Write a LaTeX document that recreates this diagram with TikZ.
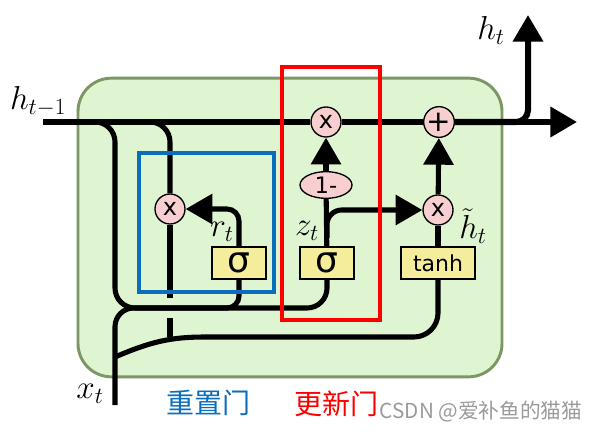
\documentclass[tikz,border=0pt]{standalone}
\usepackage{fontspec}
\usepackage{amsmath}
\usetikzlibrary{arrows.meta,positioning,shapes.geometric}
\newfontfamily\gatefont{DejaVu Sans}
\newfontfamily\cjkfont{Noto Sans CJK SC}
\definecolor{cellfill}{HTML}{DFF4D0}
\definecolor{celledge}{HTML}{7B9764}
\definecolor{opfill}{HTML}{F8CFD1}
\definecolor{layerfill}{HTML}{F5EC9C}
\definecolor{resetblue}{HTML}{0A6EBD}
\definecolor{marktext}{HTML}{9A9A9A}

\begin{document}
\begin{tikzpicture}[
    x=0.75pt, y=-0.75pt,
    cell/.style = {rectangle, draw=celledge, line width=2.2pt, fill=cellfill, rounded corners=25pt, minimum width=318pt, minimum height=224pt},
    op/.style = {circle, draw, line width=1pt, fill=opfill, minimum size=22.5pt, inner sep=0pt, font=\gatefont\fontsize{18}{18}\selectfont},
    layer/.style = {rectangle, draw, line width=1.4pt, fill=layerfill, minimum height=24pt, inner sep=0pt, font=\gatefont\fontsize{27}{27}\selectfont},
    flow/.style = {line width=3.8pt},
    arrow/.style = {line width=3.8pt, -{Triangle[length=20pt, width=22pt]}},
    gatebox/.style = {line width=3pt},
    mathlbl/.style = {inner sep=0pt, font=\fontsize{23}{26}\selectfont},
    cjklbl/.style = {inner sep=0pt, font=\cjkfont\fontsize{21}{24}\selectfont}
]
    \useasboundingbox (0,0) rectangle (591,431);

    % Cell
    \node[cell] (cell) at (290,227.5) {};

    % Free ends and taps
    \coordinate (hin) at (43,122);
    \coordinate (hout) at (577,122);
    \coordinate (htop) at (528,15);
    \coordinate (xin) at (115,405);
    \coordinate (tapa) at (88,122);
    \coordinate (tapb) at (146,122);
    \coordinate (mix) at (115,308);
    \coordinate (rtap) at (205,308);
    \coordinate (xtap) at (115,357);
    \coordinate (xbend) at (205,337);
    \coordinate (gapup) at (170,298);
    \coordinate (gapdown) at (170,318);
    \coordinate (rjoin) at (170,337);
    \coordinate (ztap) at (327,238);

    % Pointwise operations
    \node[op] (mulz) at (326,122) {x};
    \node[op, font=\gatefont\fontsize{22}{22}\selectfont] (add) at (439,122) {+};
    \node[op, ellipse, minimum width=39pt, minimum height=20pt, font=\gatefont\fontsize{17}{17}\selectfont] (oneminus) at (326,185) {1-};
    \node[op] (multh) at (438,210) {x};
    \node[op] (mulr) at (170,209) {x};

    % Layers
    \node[layer, minimum width=40.5pt] (sigr) at (239,263) {σ};
    \node[layer, minimum width=40pt] (sigz) at (327,263) {σ};
    \node[layer, minimum width=55.5pt, font=\gatefont\fontsize{16.5}{16.5}\selectfont] (tanhl) at (438,263) {tanh};

    % Hidden state line
    \draw[arrow, line width=4.5pt] (hin) -- (mulz) -- (add) -- (hout);
    \draw[arrow, line width=4.5pt, rounded corners=9pt] (add) -| (htop);

    % Inputs to the gates
    \draw[flow, rounded corners=15pt] (tapa) -| (mix) -| (sigz);
    \draw[flow, rounded corners=9pt] (rtap) -| (sigr);
    \draw[flow, rounded corners=14pt] (xin) |- (rtap);
    \draw[flow, rounded corners=15pt] (tapb) -| (mulr);
    \draw[arrow, rounded corners=9pt] (sigr) |- (mulr);
    \draw[flow] (mulr) -- (gapup);
    \draw[flow] (gapdown) -- (rjoin);

    % Candidate
    \draw[flow] (xtap) .. controls (150,342) and (170,337) .. (xbend);
    \draw[flow, rounded corners=18pt] (xbend) -| (tanhl);
    \draw[flow] (tanhl) -- (multh);
    \draw[arrow] (multh) -- (add);

    % Update
    \draw[flow] (sigz) -- (oneminus);
    \draw[arrow] (oneminus) -- (mulz);
    \draw[arrow, rounded corners=11pt] (ztap) |- (multh);

    % Gate frames
    \draw[gatebox, draw=resetblue] (139,153) rectangle (274,292);
    \draw[gatebox, draw=red] (282,67) rectangle (380,320);

    % Labels
    \node[mathlbl] (hprevlbl) at (38,101) {$h_{t-1}$};
    \node[mathlbl] (hlbl) at (491,30) {$h_t$};
    \node[mathlbl] (xlbl) at (90,394) {$x_t$};
    \node[mathlbl] (rlbl) at (222,232) {$r_t$};
    \node[mathlbl] (zlbl) at (307,231) {$z_t$};
    \node[mathlbl] (htlbl) at (473,226) {$\tilde{h}_t$};
    \node[cjklbl, text=resetblue] (resetlbl) at (208,403) {重置门};
    \node[cjklbl, text=red] (updatelbl) at (336,404) {更新门};
    \node[inner sep=0pt, text=marktext, font=\cjkfont\fontsize{15.5}{18}\selectfont] (mark) at (481,412) {CSDN @爱补鱼的猫猫};

\end{tikzpicture}
\end{document}
